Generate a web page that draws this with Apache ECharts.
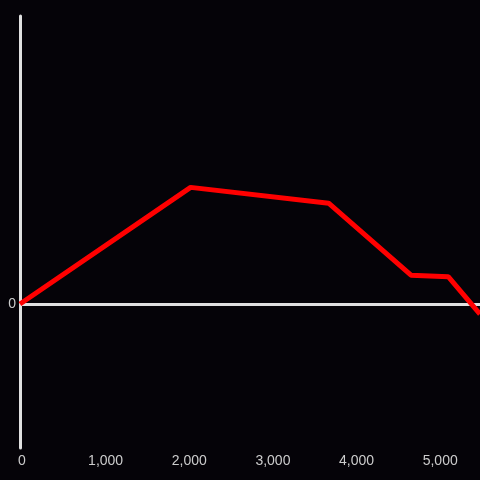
<!DOCTYPE html>
<html>
<head>
<meta charset="utf-8">
<script src="https://cdn.jsdelivr.net/npm/echarts@6/dist/echarts.min.js"></script>
<style>
  html, body { margin: 0; padding: 0; background: #050308; }
  #chart { width: 480px; height: 480px; }
</style>
</head>
<body>
<div id="chart"></div>
<script>
// values
const xValues = [0, 2040, 3690, 4675, 5120, 5500]
const yValues = [0, 0.81, 0.70, 0.20, 0.19, -0.07]

const xMin = 0
const xMax = 5500
const yMin = -1
const yMax = 2

const axisColor = '#e0e0e0'
const labelColor = '#cccccc'

const chart = echarts.init(document.getElementById('chart'))

chart.setOption({
  backgroundColor: '#050308',
  animation: false,
  grid: { left: 20, right: 0, top: 16, bottom: 32, containLabel: false },
  xAxis: {
    type: 'value',
    min: xMin,
    max: xMax,
    interval: 1000,
    axisLine: { show: false, onZero: false },
    axisTick: { show: false },
    splitLine: { show: false },
    axisLabel: {
      color: labelColor,
      fontSize: 14,
      margin: 6,
      padding: [0, 0, 0, 4],
      showMaxLabel: false,
      formatter: (v) => v.toLocaleString('en-US')
    }
  },
  yAxis: {
    type: 'value',
    min: yMin,
    max: yMax,
    interval: 1,
    axisLine: { show: true, onZero: false, lineStyle: { color: axisColor, width: 3 } },
    axisTick: { show: false },
    splitLine: { show: false },
    axisLabel: {
      color: labelColor,
      fontSize: 14,
      margin: 4,
      formatter: (v) => (v === 0 ? '0' : '')
    }
  },
  series: [
    {
      type: 'line',
      data: xValues.map((x, i) => [x, yValues[i]]),
      showSymbol: false,
      lineStyle: { color: '#ff0000', width: 5 },
      z: 3,
      markLine: {
        silent: true,
        symbol: 'none',
        label: { show: false },
        lineStyle: { color: axisColor, width: 3, type: 'solid' },
        data: [{ yAxis: 0 }],
        z: 2
      }
    }
  ]
})
</script>
</body>
</html>
